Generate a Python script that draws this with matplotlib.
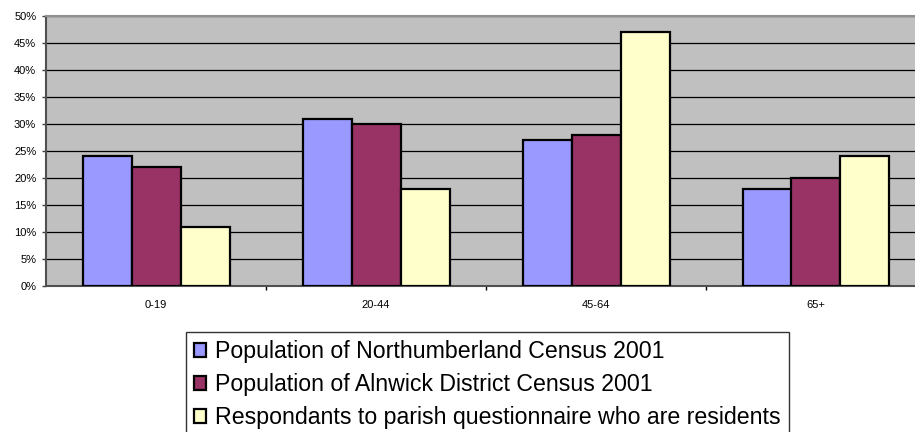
import matplotlib.pyplot as plt
import numpy as np

plt.rcParams['font.family'] = ['Liberation Sans', 'DejaVu Sans']

age_groups = ['0-19', '20-44', '45-64', '65+']
northumberland = [24, 31, 27, 18]
alnwick = [22, 30, 28, 20]
respondents = [11, 18, 47, 24]
series_names = ['Population of Northumberland Census 2001',
                'Population of Alnwick District Census 2001',
                'Respondants to parish questionnaire who are residents']
colors = ['#9999FF', '#993366', '#FFFFCC']

W, H = 915, 432
fig = plt.figure(figsize=(W / 100, H / 100), dpi=100)
# plot area runs off the right edge of the image
left, right, top, bottom = 46, 915, 16, 286
ax = fig.add_axes([left / W, 1 - bottom / H, (right - left) / W, (bottom - top) / H])
ax.set_facecolor('#C0C0C0')

cat_w = 220.0
x = np.arange(len(age_groups))
bw = 49 / cat_w
for i, (vals, c) in enumerate(zip([northumberland, alnwick, respondents], colors)):
    ax.bar(x + (i - 1) * bw, vals, width=bw, color=c, edgecolor='black',
           linewidth=1.6, label=series_names[i], zorder=3)

ax.set_yticks(range(0, 51, 5))
ax.set_yticklabels([f'{v}%' for v in range(0, 51, 5)], fontsize=8)
ax.yaxis.grid(True, color='black', linewidth=0.9, zorder=1)
ax.set_axisbelow(True)

ax.set_xticks(x)
ax.set_xticklabels(age_groups, fontsize=8)
ax.set_xticks([0.5, 1.5, 2.5], minor=True)
ax.tick_params(axis='x', which='major', length=0, pad=10)
ax.tick_params(axis='x', which='minor', length=3, width=1, color='black')
ax.tick_params(axis='y', length=3, width=1, color='#404040', pad=4)

# limits last so the tick setters don't widen them
ax.set_xlim(-0.5, -0.5 + (right - left) / cat_w)
ax.set_ylim(0, 50)

for s in ['left', 'bottom']:
    ax.spines[s].set_color('#505050')
    ax.spines[s].set_linewidth(1.5)
ax.spines['top'].set_color('#909090')
ax.spines['top'].set_linewidth(1.5)
ax.spines['right'].set_visible(False)

leg = fig.legend(loc='upper left', bbox_to_anchor=(186 / W, 1 - 332 / H),
                 fontsize=16.7, frameon=True, fancybox=False, edgecolor='black',
                 handlelength=0.52, handleheight=0.52, handletextpad=0.4,
                 labelspacing=0.43, borderpad=0.35, borderaxespad=0)
leg.get_frame().set_linewidth(1)

fig.savefig('out.png', dpi=100)
